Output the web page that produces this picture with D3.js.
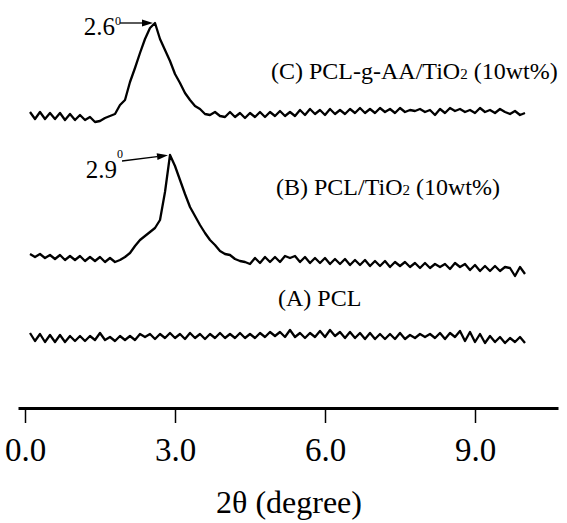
<!DOCTYPE html>
<html><head><meta charset="utf-8">
<script src="https://cdn.jsdelivr.net/npm/d3@7"></script>
<style>body{margin:0;background:#fff} svg{display:block}</style>
</head><body>
<svg id="chart" width="567" height="523"></svg>
<script>
// ---- data ----
const twoTheta = [
  0.1,0.2,0.3,0.4,0.5,0.6,0.7,0.8,0.9,1.0,
  1.1,1.2,1.3,1.4,1.5,1.6,1.7,1.8,1.9,2.0,
  2.1,2.2,2.3,2.4,2.5,2.6,2.7,2.8,2.9,3.0,
  3.1,3.2,3.3,3.4,3.5,3.6,3.7,3.8,3.9,4.0,
  4.1,4.2,4.3,4.4,4.5,4.6,4.7,4.8,4.9,5.0,
  5.1,5.2,5.3,5.4,5.5,5.6,5.7,5.8,5.9,6.0,
  6.1,6.2,6.3,6.4,6.5,6.6,6.7,6.8,6.9,7.0,
  7.1,7.2,7.3,7.4,7.5,7.6,7.7,7.8,7.9,8.0,
  8.1,8.2,8.3,8.4,8.5,8.6,8.7,8.8,8.9,9.0,
  9.1,9.2,9.3,9.4,9.5,9.6,9.7,9.8,9.9,10.0
];
// intensities (a.u., curves as stacked in the figure)
const intensityA = [
  75,67,74,66,73,66,73,66,72,67,
  72,67,72,68,75,68,71,67,72,68,
  72,68,74,71,74,69,74,70,75,70,
  74,69,75,70,74,69,74,70,75,70,
  74,70,75,70,74,70,75,71,76,72,
  76,71,78,71,75,70,75,71,77,71,
  78,72,76,70,76,70,75,69,75,69,
  74,69,74,69,75,69,73,70,74,71,
  74,70,75,69,75,71,77,67,76,66,
  74,65,72,66,71,65,70,66,71,65
];
const intensityB = [
  154,151,154,150,153,149,153,148,152,148,
  152,147,151,147,151,146,150,146,148,151,
  155,162,168,172,176,180,188,216,253,242,
  228,214,201,192,183,175,168,163,157,154,
  153,149,147,146,144,150,145,151,146,151,
  146,152,150,152,146,151,145,150,145,150,
  144,149,144,149,143,148,143,148,142,147,
  142,147,141,146,142,146,141,145,140,145,
  140,144,141,144,139,145,141,144,138,143,
  137,142,137,142,137,141,140,132,141,134
];
const intensityC = [
  296,289,296,289,295,289,295,288,294,288,
  293,288,291,286,287,290,292,294,303,308,
  326,340,355,369,380,385,369,358,347,334,
  325,315,308,302,299,294,293,296,292,291,
  296,291,295,290,295,291,296,291,296,292,
  297,292,296,292,298,293,299,294,298,293,
  299,294,298,294,299,295,300,295,299,295,
  300,296,299,295,300,296,298,297,299,296,
  298,293,299,295,300,297,299,296,298,295,
  300,296,298,295,299,296,294,297,293,295
];
const seriesNames = ["(A) PCL", "(B) PCL/TiO2 (10wt%)", "(C) PCL-g-AA/TiO2 (10wt%)"];
const peakLabels = ["", "2.9", "2.6"];
const xTicks = [0, 3, 6, 9];
const xTitle = "2\u03B8 (degree)";

// ---- drawing ----
const svg = d3.select("#chart");
const font = "'Liberation Serif','Times New Roman',Times,serif";
const x = d3.scaleLinear().domain([-0.14, 10.66]).range([18, 558]);
const y = d3.scaleLinear().domain([0, 400]).range([408, 8]);

const series = [intensityA, intensityB, intensityC];
const line = d3.line().x((d, i) => x(twoTheta[i])).y(d => y(d));

svg.selectAll("path.curve").data(series).join("path")
  .attr("class", "curve")
  .attr("d", d => line(d))
  .attr("fill", "none").attr("stroke", "#000")
  .attr("stroke-width", 2.3).attr("stroke-linejoin", "round");

// axis
const axis = svg.append("g").attr("transform", `translate(0,${y(0)})`)
  .call(d3.axisBottom(x).tickValues(xTicks).tickFormat(d3.format(".1f")).tickSize(15).tickSizeOuter(0));
axis.select(".domain").attr("stroke", "#000").attr("stroke-width", 3);
axis.selectAll(".tick line").attr("stroke", "#000").attr("stroke-width", 1.5);
axis.selectAll(".tick text").attr("font-family", font).attr("font-size", 33)
  .attr("fill", "#000").attr("y", 53).attr("dy", 0);

svg.append("text").attr("x", 289).attr("y", 513).attr("text-anchor", "middle")
  .attr("font-family", font).attr("font-size", 32).attr("fill", "#000").text(xTitle);

// series labels
const labelLayout = [{dx: 5.06, v: 102}, {dx: 5.02, v: 213}, {dx: 4.92, v: 329}];
seriesNames.forEach((name, k) => {
  const t = svg.append("text").attr("x", x(labelLayout[k].dx)).attr("y", y(labelLayout[k].v))
    .attr("font-family", font).attr("font-size", 24).attr("fill", "#000");
  const idx = name.indexOf("TiO2");
  if (idx < 0) { t.text(name); return; }
  t.append("tspan").text(name.slice(0, idx + 3));
  t.append("tspan").attr("font-size", 15).text("2");
  t.append("tspan").text(name.slice(idx + 4));
});

// peak annotations
const annLayout = [null, {tx: -48, ty: 6, lx: 1, ly: 17, sup: -20}, {tx: -35, ty: 0, lx: 1, ly: 12, sup: -10}];
series.forEach((s, k) => {
  if (!peakLabels[k]) return;
  const i = d3.maxIndex(s);
  const px = x(twoTheta[i]), py = y(s[i]);
  const L = annLayout[k];
  const tx = px + L.tx, ty = py + L.ty;
  const ang = Math.atan2(py - ty, px - tx);
  const hl = 11, hw = 3.5;
  const bx = px - 2 * Math.cos(ang), by = py - 2 * Math.sin(ang);
  const cx = bx - hl * Math.cos(ang), cy = by - hl * Math.sin(ang);
  svg.append("line").attr("x1", tx).attr("y1", ty).attr("x2", cx).attr("y2", cy)
    .attr("stroke", "#000").attr("stroke-width", 1.3);
  svg.append("path").attr("d", `M${bx},${by}L${cx - hw * Math.sin(ang)},${cy + hw * Math.cos(ang)}L${cx + hw * Math.sin(ang)},${cy - hw * Math.cos(ang)}Z`)
    .attr("fill", "#000");
  const t = svg.append("text").attr("x", tx + L.lx).attr("y", ty + L.ly).attr("text-anchor", "end")
    .attr("font-family", font).attr("font-size", 25).attr("fill", "#000");
  t.append("tspan").text(peakLabels[k]);
  t.append("tspan").attr("font-size", 12).attr("dy", L.sup).text("0");
});
</script>
</body></html>
